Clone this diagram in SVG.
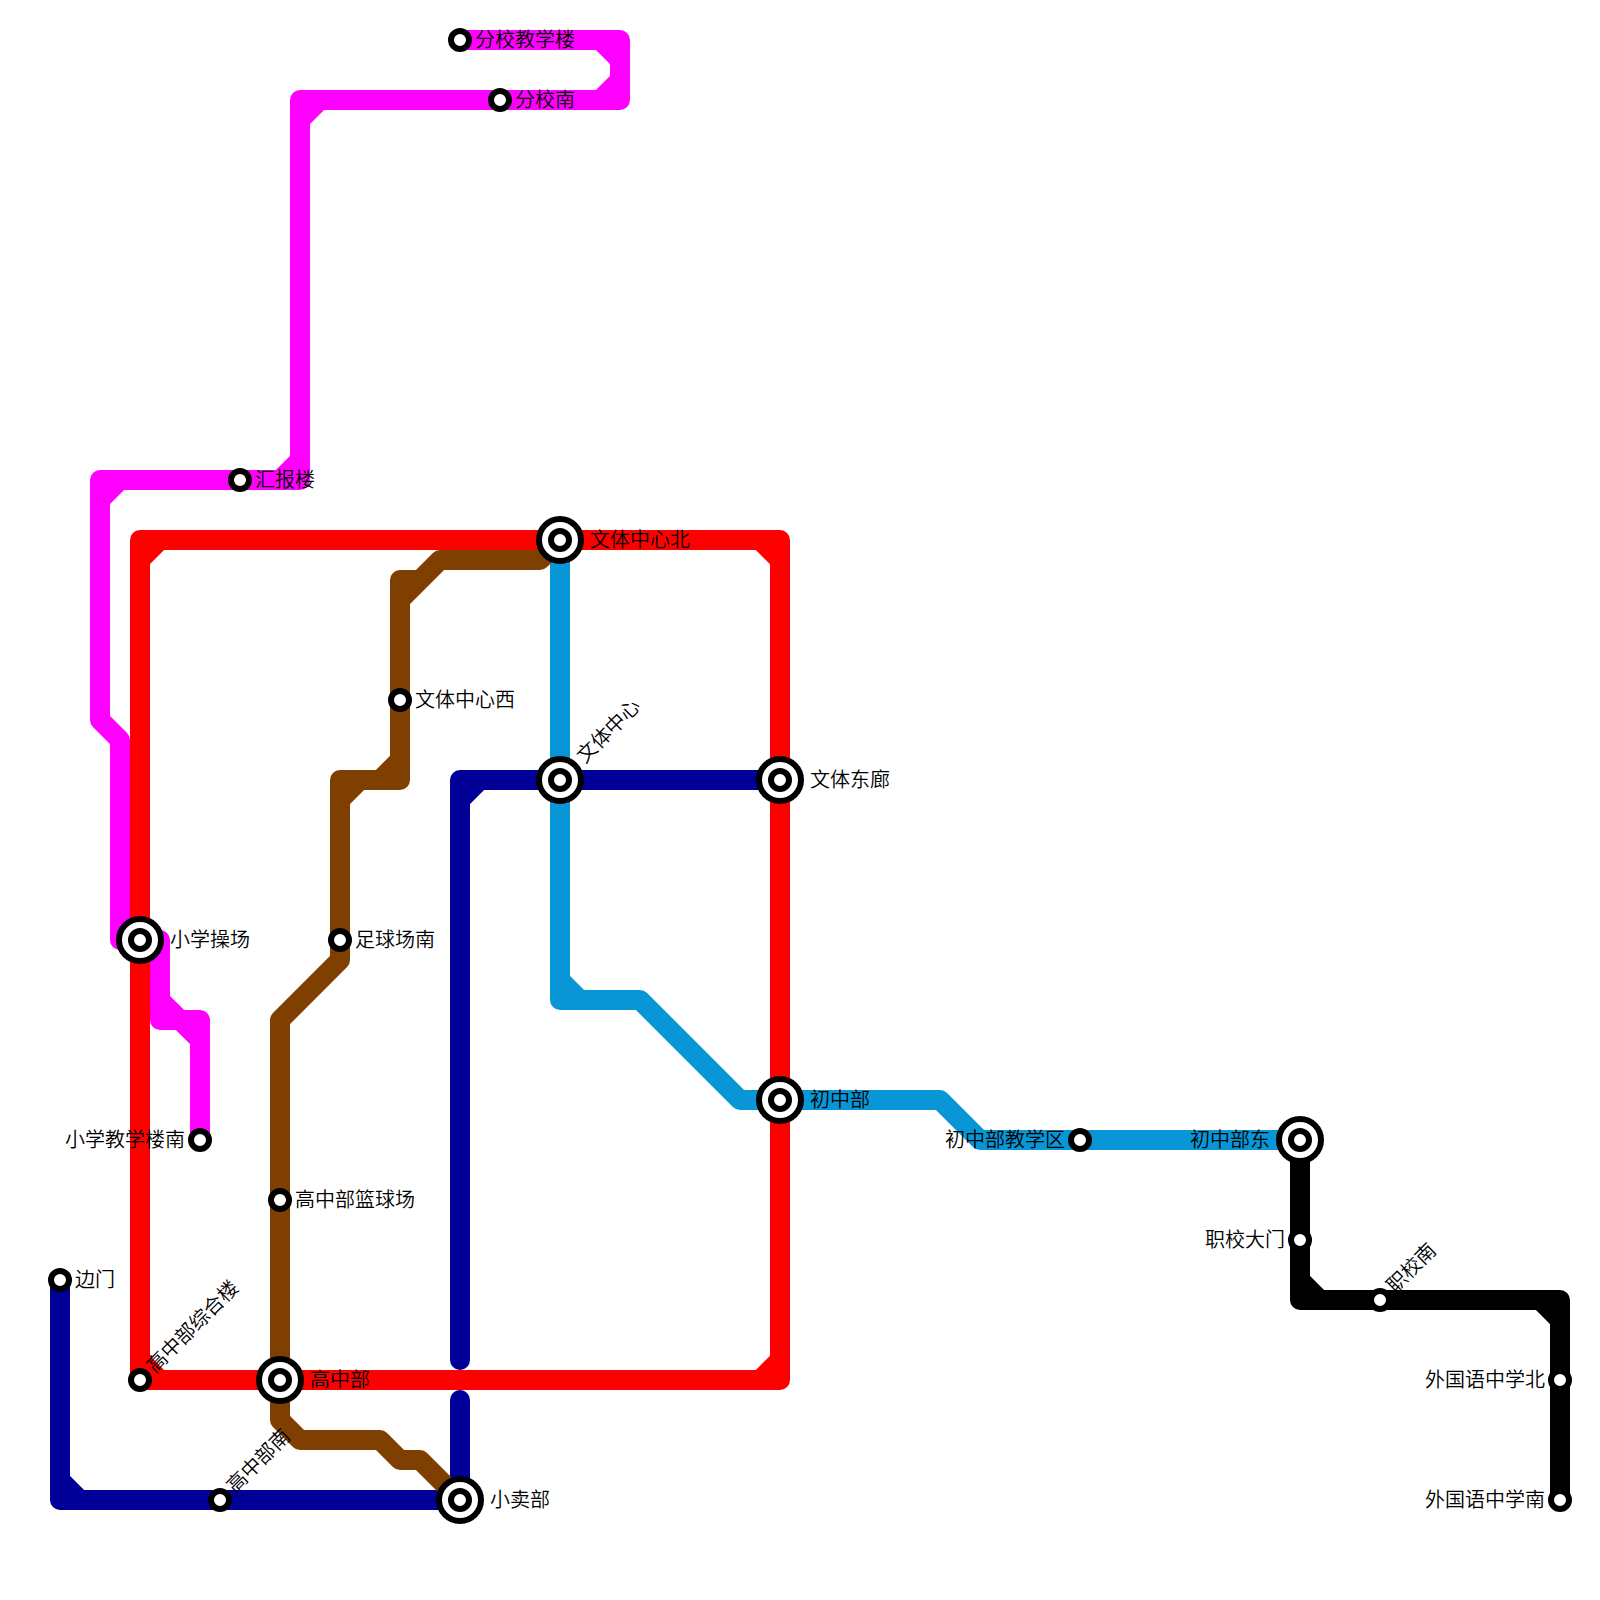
<svg xmlns="http://www.w3.org/2000/svg" width="1600" height="1600" viewBox="0 0 1600 1600">
<style>
.l{fill:none;stroke-width:20;stroke-linejoin:round;stroke-linecap:round}
.o{fill:#fff;stroke:#000;stroke-width:6}
.s{fill:#fff;stroke:#000;stroke-width:6}
text{font-family:"Noto Sans CJK SC",sans-serif;font-size:20px;font-weight:350;fill:#000}
.e{text-anchor:end}
</style>
<rect width="1600" height="1600" fill="#fff"/>
<g id="connectors">
<path class="l" stroke="#ff00ff" d="M460 40H620V60L600 40M620 60V80L600 100M620 80V100H300V120L320 100M300 120V460L280 480M300 460V480H100V500L120 480M100 500V720L120 740V940H160V1000L200 1040M160 1000V1020H200V1140"/>
<path class="l" stroke="#000099" d="M60 1280V1500H460V1400M60 1480L80 1500M460 1360V780H780M460 800L480 780"/>
<path class="l" stroke="#0896d7" d="M560 540V1000H640L740 1100H940L980 1140H1300M560 980L580 1000"/>
<path class="l" stroke="#ff0000" d="M140 1380V540H780V1380H140M140 560L160 540M760 540L780 560M760 1380L780 1360M140 1360L160 1380"/>
<path class="l" stroke="#7f3f00" d="M560 540L540 560H440L400 600M420 580H400V780H340V960L280 1020V1420L300 1440H380L400 1460H420L460 1500M400 760L380 780M340 800L360 780"/>
<path class="l" stroke="#000000" d="M1300 1140V1300H1560V1500M1300 1280L1320 1300M1540 1300L1560 1320"/>
</g>
<g id="st-fenxiao-jiaoxue"><circle class="s" cx="460" cy="40" r="9"/><text x="475" y="47">分校教学楼</text></g>
<g id="st-fenxiao-nan"><circle class="s" cx="500" cy="100" r="9"/><text x="515" y="107">分校南</text></g>
<g id="st-huibao"><circle class="s" cx="240" cy="480" r="9"/><text x="255" y="487">汇报楼</text></g>
<g id="st-wenti-bei"><circle class="o" cx="560" cy="540" r="21"/><circle class="s" cx="560" cy="540" r="9"/><text x="590" y="547">文体中心北</text></g>
<g id="st-wenti-xi"><circle class="s" cx="400" cy="700" r="9"/><text x="415" y="707">文体中心西</text></g>
<g id="st-wenti"><circle class="o" cx="560" cy="780" r="21"/><circle class="s" cx="560" cy="780" r="9"/><text transform="translate(585 764) rotate(-45)">文体中心</text></g>
<g id="st-wenti-dong"><circle class="o" cx="780" cy="780" r="21"/><circle class="s" cx="780" cy="780" r="9"/><text x="810" y="787">文体东廊</text></g>
<g id="st-xiaoxue-caochang"><circle class="o" cx="140" cy="940" r="21"/><circle class="s" cx="140" cy="940" r="9"/><text x="170" y="947">小学操场</text></g>
<g id="st-zuqiu"><circle class="s" cx="340" cy="940" r="9"/><text x="355" y="947">足球场南</text></g>
<g id="st-chuzhong"><circle class="o" cx="780" cy="1100" r="21"/><circle class="s" cx="780" cy="1100" r="9"/><text x="810" y="1107">初中部</text></g>
<g id="st-xiaoxue-nan"><circle class="s" cx="200" cy="1140" r="9"/><text class="e" x="185" y="1147">小学教学楼南</text></g>
<g id="st-chuzhong-jiaoxue"><circle class="s" cx="1080" cy="1140" r="9"/><text class="e" x="1065" y="1147">初中部教学区</text></g>
<g id="st-chuzhong-dong"><circle class="o" cx="1300" cy="1140" r="21"/><circle class="s" cx="1300" cy="1140" r="9"/><text class="e" x="1270" y="1147">初中部东</text></g>
<g id="st-gaozhong-lanqiu"><circle class="s" cx="280" cy="1200" r="9"/><text x="295" y="1207">高中部篮球场</text></g>
<g id="st-zhixiao-damen"><circle class="s" cx="1300" cy="1240" r="9"/><text class="e" x="1285" y="1247">职校大门</text></g>
<g id="st-bianmen"><circle class="s" cx="60" cy="1280" r="9"/><text x="75" y="1287">边门</text></g>
<g id="st-zhixiao-nan"><circle class="s" cx="1380" cy="1300" r="9"/><text transform="translate(1395 1294) rotate(-45)">职校南</text></g>
<g id="st-gaozhong-zonghe"><circle class="s" cx="140" cy="1380" r="9"/><text transform="translate(155 1374) rotate(-45)">高中部综合楼</text></g>
<g id="st-gaozhong"><circle class="o" cx="280" cy="1380" r="21"/><circle class="s" cx="280" cy="1380" r="9"/><text x="310" y="1387">高中部</text></g>
<g id="st-waiguoyu-bei"><circle class="s" cx="1560" cy="1380" r="9"/><text class="e" x="1545" y="1387">外国语中学北</text></g>
<g id="st-gaozhong-nan"><circle class="s" cx="220" cy="1500" r="9"/><text transform="translate(235 1494) rotate(-45)">高中部南</text></g>
<g id="st-xiaomai"><circle class="o" cx="460" cy="1500" r="21"/><circle class="s" cx="460" cy="1500" r="9"/><text x="490" y="1507">小卖部</text></g>
<g id="st-waiguoyu-nan"><circle class="s" cx="1560" cy="1500" r="9"/><text class="e" x="1545" y="1507">外国语中学南</text></g>
</svg>
